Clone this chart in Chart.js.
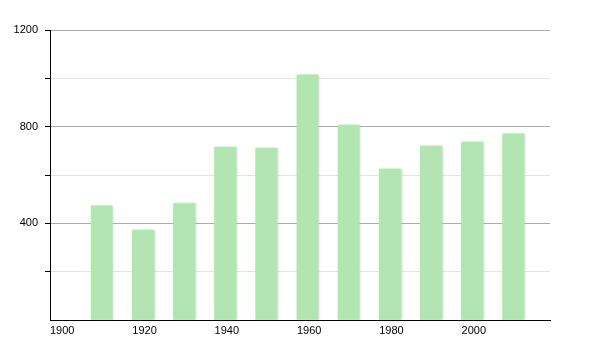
<!DOCTYPE html>
<html>
<head>
<meta charset="utf-8">
<script src="https://cdn.jsdelivr.net/npm/chart.js@4/dist/chart.umd.min.js"></script>
<style>
  html, body { margin: 0; padding: 0; background: #fff; }
  #wrap { width: 600px; height: 350px; }
</style>
</head>
<body>
<div id="wrap"><canvas id="chart"></canvas></div>
<script>
// data
var years = [1910, 1920, 1930, 1940, 1950, 1960, 1970, 1980, 1990, 2000, 2010];
var values = [472, 372, 481, 714, 710, 1014, 807, 625, 720, 736, 770];
var xTicks = [1900, 1920, 1940, 1960, 1980, 2000];
var yMajor = [400, 800, 1200];

var barW = 21;
var pxPerYear = 500 / 121.5;
var shift = barW / 2 / pxPerYear; // bars start at their year, not centred

var points = [];
years.forEach(function (y, i) {
    points.push({ x: y, y: values[i] });
});

// soft edges on the bars
var softBars = {
    id: 'softBars',
    beforeDatasetsDraw: function (chart) {
        var ctx = chart.ctx;
        ctx.save();
        ctx.shadowColor = 'rgba(160,220,160,0.8)';
        ctx.shadowBlur = 2;
        ctx.shadowOffsetX = 1;
    },
    afterDatasetsDraw: function (chart) {
        chart.ctx.restore();
    }
};

new Chart(document.getElementById('chart'), {
    type: 'bar',
    data: {
        datasets: [{
            data: points,
            xAxisID: 'xb',
            backgroundColor: '#b2e5b2',
            borderWidth: 0,
            barThickness: barW
        }]
    },
    plugins: [softBars],
    options: {
        responsive: true,
        maintainAspectRatio: false,
        animation: false,
        layout: { padding: { left: 0, right: 50, top: 30, bottom: 0 } },
        plugins: { legend: { display: false }, tooltip: { enabled: false } },
        scales: {
            xb: {
                type: 'linear',
                display: false,
                offset: false,
                min: 1900 - shift,
                max: 2021.5 - shift
            },
            x: {
                type: 'linear',
                position: 'bottom',
                offset: false,
                min: 1900,
                max: 2021.5,
                afterFit: function (s) { s.height = 30; },
                afterBuildTicks: function (s) {
                    s.ticks = xTicks.map(function (v) { return { value: v }; });
                },
                grid: { display: false, drawTicks: false, offset: false },
                border: { display: true, color: '#000', width: 1 },
                ticks: {
                    align: 'start',
                    padding: 4,
                    color: '#000',
                    font: { family: 'Liberation Sans', size: 11 },
                    callback: function (v) { return String(v); }
                }
            },
            y: {
                min: 0,
                max: 1200,
                afterFit: function (s) { s.width = 50; },
                grid: {
                    color: function (c) {
                        if (c.tick.value === 0) return 'rgba(0,0,0,0)';
                        return yMajor.indexOf(c.tick.value) >= 0 ? '#aaaaaa' : '#e4e4e4';
                    },
                    tickColor: function (c) {
                        return c.tick.value === 0 ? 'rgba(0,0,0,0)' : '#000';
                    },
                    tickLength: 5
                },
                border: { display: true, color: '#000', width: 1 },
                ticks: {
                    stepSize: 200,
                    padding: 7,
                    color: '#000',
                    font: { family: 'Liberation Sans', size: 11 },
                    callback: function (v) { return yMajor.indexOf(v) >= 0 ? String(v) : ''; }
                }
            }
        }
    }
});
</script>
</body>
</html>
